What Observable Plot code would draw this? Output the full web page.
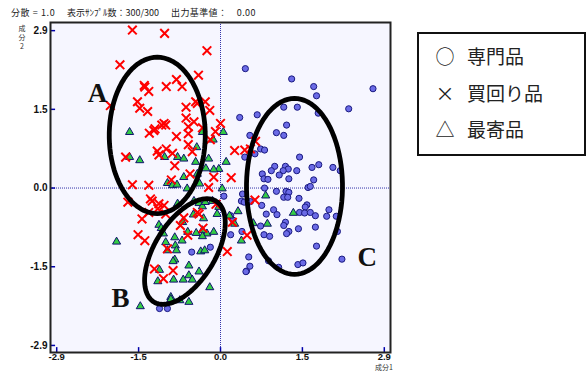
<!DOCTYPE html>
<html><head><meta charset="utf-8">
<script src="https://cdn.jsdelivr.net/npm/d3@7"></script>
<script src="https://cdn.jsdelivr.net/npm/@observablehq/plot@0.6"></script>
<style>
body{margin:0;background:#fff;}
#wrap{position:relative;width:588px;height:371px;overflow:hidden;font-family:"Noto Sans CJK JP","Noto Sans",sans-serif;}
#wrap svg{position:absolute;left:0;top:0;}
.hdr{position:absolute;top:6px;font-size:9px;color:#222;white-space:pre;}
#ylab{position:absolute;left:17px;top:24px;font-size:7px;color:#333;width:10px;text-align:center;line-height:9px;}
#xlab{position:absolute;left:375px;top:364px;font-size:7px;line-height:7px;color:#333;}
#legend{position:absolute;left:417px;top:32px;width:165px;height:120px;border:2px solid #111;background:#fff;}
.li{position:absolute;left:14px;font-size:19px;color:#222;white-space:pre;line-height:20px;}
.sym{display:inline-block;width:24px;text-align:center;margin-right:10px;}
</style></head>
<body><div id="wrap"></div>
<script>
// ---- data (component 1, component 2) ----
const senmonhin = [ // 専門品 (circles)
[0.06,-0.15],[0.39,-0.11],[0.37,-0.24],[0.42,-0.26],[0.18,-0.51],[0.22,-0.59],[0.18,-0.86],[-0.18,-1.09],
[-0.51,-1.18],[0.50,-1.27],[0.46,-1.53],[-1.08,-2.22],[-0.94,-2.22],[0.44,2.20],[1.26,2.01],[1.65,1.87],
[1.70,1.70],[2.70,1.83],[2.27,1.46],[1.12,1.49],[1.36,1.49],[1.73,1.38],[0.65,1.35],[0.34,1.30],
[1.17,1.16],[0.99,1.02],[1.12,0.97],[0.52,0.97],[0.71,0.72],[0.78,0.70],[0.61,0.63],[0.43,0.57],
[1.40,0.57],[0.96,0.40],[0.90,0.32],[1.15,0.40],[1.20,0.35],[1.11,0.32],[0.74,0.26],[1.04,0.24],
[1.35,0.32],[1.62,0.38],[1.74,0.43],[1.99,0.38],[2.12,0.32],[0.77,0.17],[0.84,0.16],[1.21,0.17],
[1.65,0.15],[0.78,0.00],[0.99,-0.06],[1.55,0.01],[1.59,0.03],[1.16,-0.06],[1.21,-0.08],[1.12,-0.17],
[1.19,-0.17],[1.39,-0.19],[0.73,-0.32],[0.53,-0.25],[1.53,-0.31],[1.50,-0.35],[1.92,-0.40],[0.94,-0.40],
[1.00,-0.49],[0.81,-0.48],[1.40,-0.45],[1.49,-0.46],[1.59,-0.45],[1.68,-0.51],[1.88,-0.52],[2.05,-0.52],
[1.15,-0.63],[1.12,-0.69],[0.71,-0.70],[1.68,-0.72],[1.38,-0.75],[1.21,-0.80],[1.17,-0.84],[0.77,-0.86],
[0.87,-0.89],[2.07,-0.80],[1.70,-1.07],[0.38,-0.80],[0.85,-1.34],[1.03,-1.46],[1.37,-1.41],[1.46,-1.38],
[2.15,-1.31],[0.52,-1.44],[0.45,-1.54]
];
const kaimawarihin = [ // 買回り品 (crosses)
[-1.56,2.91],[-0.99,2.85],[-0.24,2.53],[-1.78,2.27],[-0.39,2.08],[-0.78,2.00],[-1.35,1.89],[-1.34,1.86],
[-0.96,1.87],[-0.68,1.87],[-1.27,1.78],[-1.47,1.59],[-0.44,1.59],[-0.41,1.56],[-0.27,1.59],[-1.95,1.52],
[-1.43,1.47],[-0.61,1.49],[-1.29,1.41],[-0.19,1.43],[-0.61,1.29],[-0.47,1.22],[-1.00,1.19],[-1.04,1.16],
[-0.97,1.16],[-0.57,1.13],[-1.16,1.09],[-1.18,1.06],[-0.32,1.11],[-0.09,1.04],[-1.26,1.01],[-0.57,1.00],
[-0.78,0.95],[-0.18,0.89],[-0.57,0.80],[-0.96,0.72],[-1.12,0.68],[-1.09,0.61],[-0.85,0.64],[-0.50,0.67],
[-1.68,0.57],[-0.81,0.41],[-0.54,0.26],[-0.12,0.20],[-0.87,0.15],[-1.56,0.06],[-1.27,0.05],[-0.21,0.01],
[-1.24,-0.20],[-1.21,-0.24],[-1.09,-0.29],[-1.00,-0.32],[-1.11,-0.38],[-1.64,-0.26],[-1.27,-0.45],[-0.97,-0.48],
[-1.39,-0.57],[-0.65,-0.55],[-0.41,-0.45],[-0.38,-0.48],[-0.08,-0.30],[-0.71,-0.69],[-0.31,-0.74],[-1.46,-0.86],
[-1.34,-0.97],[-0.58,-0.87],[-0.94,-1.12],[0.12,-1.17],[-1.17,-1.49],[-0.84,-1.52],[-1.01,-1.67],[0.47,-0.87],
[0.21,-0.63],[0.00,1.19],[0.62,0.86],[0.25,0.69],[0.43,0.70],[0.53,0.72],[0.19,0.19],[0.61,-0.22]
];
const mokiyorihin = [ // 最寄品 (triangles)
[-1.61,1.03],[-0.32,1.03],[-0.13,0.89],[-0.42,0.75],[-1.61,0.57],[-1.43,0.51],[-0.99,0.57],[-0.76,0.57],
[-0.65,0.54],[-0.44,0.48],[-0.21,0.54],[-0.26,0.36],[-0.03,0.35],[-0.65,0.20],[-0.41,0.26],[-0.94,0.09],
[-0.85,0.05],[-0.77,0.06],[-0.59,-0.01],[-0.37,0.08],[0.03,-0.01],[-0.76,-0.29],[-0.47,-0.24],[-0.38,-0.28],
[-0.32,-0.34],[-0.27,-0.26],[-0.14,-0.24],[-0.03,-0.35],[-0.48,-0.49],[-0.30,-0.56],[-0.06,-0.48],[0.16,-0.51],
[0.31,-0.43],[0.25,-0.66],[-0.67,-0.63],[-1.09,-0.68],[-1.05,-0.74],[-1.01,-0.84],[-0.58,-0.81],[-0.43,-0.83],
[-0.32,-0.78],[-0.24,-0.84],[-0.12,-0.81],[-0.81,-0.91],[-0.32,-0.89],[-0.97,-1.00],[-0.80,-1.06],[-0.68,-0.97],
[-1.84,-0.99],[-0.94,-1.15],[-0.78,-1.15],[-0.35,-1.17],[-0.28,-1.15],[-0.81,-1.32],[-0.84,-1.35],[-0.56,-1.43],
[-0.38,-1.54],[-1.08,-1.51],[-0.56,-1.61],[-0.50,-1.69],[-0.66,-1.69],[-0.83,-1.69],[-1.11,-1.72],[-0.19,-1.83],
[-0.88,-2.01],[-0.88,-2.05],[-1.42,-2.18],[-0.72,-2.07],[-0.56,-2.10],[0.37,-0.97],[0.05,1.03],[0.80,-0.14],
[1.29,-0.46],[0.83,-0.66],[0.58,-0.65],[0.10,0.48],[-0.12,0.34]
];
const tickValues = [-2.9, -1.45, 0, 1.45, 2.9];
const tickLabels = ["-2.9", "-1.5", "0.0", "1.5", "2.9"];
// cluster annotations: centre, semi-axes (major a, minor b), angle of major axis (deg)
const clusterNames = ["A", "B", "C"];
const clusterCx = [-1.12, -0.63, 1.31];
const clusterCy = [0.97, -1.17, 0.03];
const clusterA = [1.44, 1.08, 1.62];
const clusterB = [0.85, 0.54, 0.85];
const clusterAngle = [90, 60, 90];
const labelX = [-2.18, -1.77, 2.60];
const labelY = [1.74, -2.03, -1.28];
const legendItems = ["専門品", "買回り品", "最寄品"];
const legendSymbols = ["○", "×", "△"];

// ---- build ----
const xDom = [-3.01, 3.01], yDom = [-3.03, 3.05];
const toObj = a => a.map(([x, y]) => ({x, y}));
const ellipses = [];
clusterNames.forEach((n, k) => {
  const th = clusterAngle[k] * Math.PI / 180;
  for (let i = 0; i <= 90; i++) {
    const t = i / 90 * 2 * Math.PI;
    const ex = clusterA[k] * Math.cos(t), ey = clusterB[k] * Math.sin(t);
    ellipses.push({id: n, x: clusterCx[k] + ex * Math.cos(th) - ey * Math.sin(th), y: clusterCy[k] + ex * Math.sin(th) + ey * Math.cos(th)});
  }
});
const labels = clusterNames.map((n, k) => ({n, x: labelX[k], y: labelY[k]}));
const ticks = tickValues.map((v, i) => ({v, t: tickLabels[i]}));

const chart = Plot.plot({
  width: 588, height: 371,
  marginLeft: 50, marginRight: 198, marginTop: 22, marginBottom: 19,
  x: {domain: xDom, axis: null},
  y: {domain: yDom, axis: null},
  style: {background: "transparent", overflow: "visible"},
  marks: [
    Plot.frame({fill: "#f6f6ff", stroke: null}),
    Plot.ruleX([0], {stroke: "#3333aa", strokeWidth: 1, strokeDasharray: "1,1"}),
    Plot.ruleY([0], {stroke: "#3333aa", strokeWidth: 1, strokeDasharray: "1,1"}),
    Plot.ruleY(tickValues, {x1: xDom[0], x2: xDom[0] + 0.09, stroke: "#0000aa", strokeWidth: 1.5}),
    Plot.ruleX(tickValues, {y1: yDom[0], y2: yDom[0] + 0.09, stroke: "#0000aa", strokeWidth: 1.5}),
    Plot.dot(toObj(senmonhin), {x: "x", y: "y", r: 3.1, symbol: "circle", fill: "#6b6be6", stroke: "#1a1a80", strokeWidth: 1}),
    Plot.dot(toObj(mokiyorihin), {x: "x", y: "y", r: 3, symbol: "triangle", fill: "#33cc44", stroke: "#10106e", strokeWidth: 1}),
    Plot.dot(toObj(kaimawarihin), {x: "x", y: "y", r: 4, symbol: "times", stroke: "#ff0000", strokeWidth: 2}),
    Plot.line(ellipses, {x: "x", y: "y", z: "id", stroke: "#000", strokeWidth: 4.8}),
    Plot.text(labels, {x: "x", y: "y", text: "n", fontSize: 27, fontWeight: "bold", fontFamily: "Liberation Serif", fill: "#111"}),
    Plot.frame({stroke: "#222", strokeWidth: 2}),
    Plot.text(ticks, {x: xDom[0], y: "v", text: "t", textAnchor: "end", dx: -3, fontSize: 10, fontWeight: "bold", fontFamily: "Liberation Sans", fill: "#111"}),
    Plot.text(ticks, {x: "v", y: yDom[0], text: "t", lineAnchor: "top", dy: 1, fontSize: 9.5, fontWeight: "bold", fontFamily: "Liberation Sans", fill: "#111"})
  ]
});
const wrap = document.getElementById("wrap");
wrap.appendChild(chart);

const addDiv = (cls, txt, css) => { const d = document.createElement("div"); if (cls) d.className = cls; d.textContent = txt; Object.assign(d.style, css || {}); wrap.appendChild(d); return d; };
addDiv("hdr", "分散 = 1.0", {left: "11px", letterSpacing: "0.6px"});
addDiv("hdr", "表示ｻﾝﾌﾟﾙ数：300/300", {left: "67px"});
addDiv("hdr", "出力基準値：　0.00", {left: "171px", letterSpacing: "0.4px"});
const yl = document.createElement("div"); yl.id = "ylab"; yl.innerHTML = "成<br>分<br>2"; wrap.appendChild(yl);
const xl = addDiv(null, "成分1"); xl.id = "xlab";
const lg = document.createElement("div"); lg.id = "legend"; wrap.appendChild(lg);
legendItems.forEach((t, i) => {
  const d = document.createElement("div"); d.className = "li"; d.style.top = (12 + i * 36.5) + "px";
  const s = document.createElement("span"); s.className = "sym"; s.textContent = legendSymbols[i];
  d.appendChild(s); d.appendChild(document.createTextNode(t)); lg.appendChild(d);
});
</script></body></html>
